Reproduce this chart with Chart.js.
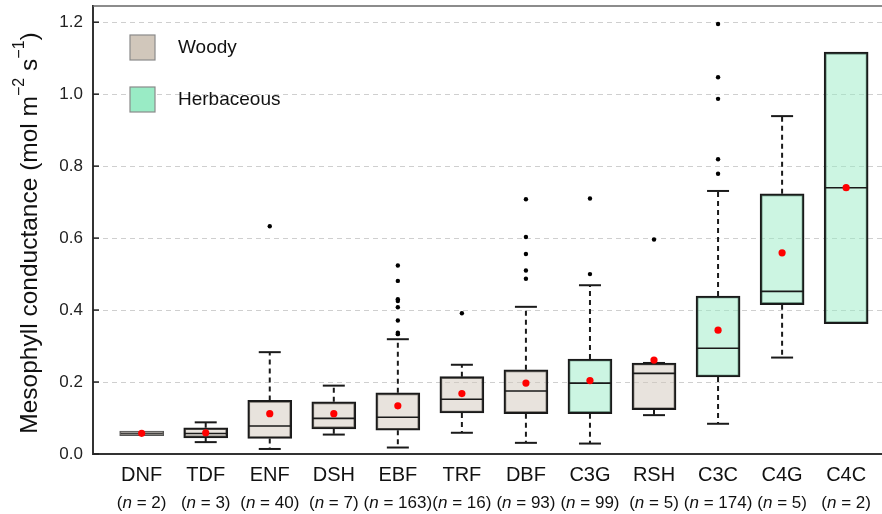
<!DOCTYPE html>
<html>
<head>
<meta charset="utf-8">
<script src="https://cdn.jsdelivr.net/npm/chart.js@4"></script>
<style>
  html, body { margin: 0; padding: 0; background: #fff; }
  #wrap { width: 882px; height: 514px; }
</style>
</head>
<body>
<div id="wrap"><canvas id="myChart"></canvas></div>
<script>
  // data
  const categories = ['DNF', 'TDF', 'ENF', 'DSH', 'EBF', 'TRF', 'DBF', 'C3G', 'RSH', 'C3C', 'C4G', 'C4C'];
  const sampleSizes = [2, 3, 40, 7, 163, 16, 93, 99, 5, 174, 5, 2];
  const groups = ['Woody', 'Woody', 'Woody', 'Woody', 'Woody', 'Woody', 'Woody',
                  'Herbaceous', 'Woody', 'Herbaceous', 'Herbaceous', 'Herbaceous'];
  const q1 =          [0.051, 0.045, 0.043, 0.070, 0.066, 0.114, 0.112, 0.112, 0.123, 0.214, 0.415, 0.362];
  const medians =     [0.0575, 0.057, 0.078, 0.099, 0.102, 0.152, 0.175, 0.197, 0.224, 0.294, 0.452, 0.740];
  const q3 =          [0.064, 0.073, 0.149, 0.145, 0.170, 0.215, 0.234, 0.264, 0.253, 0.439, 0.723, 1.117];
  const whiskerLow =  [null, 0.033, 0.014, 0.054, 0.018, 0.059, 0.031, 0.029, 0.108, 0.084, 0.268, null];
  const whiskerHigh = [null, 0.088, 0.283, 0.190, 0.319, 0.248, 0.409, 0.469, 0.253, 0.731, 0.939, null];
  const means =       [0.0575, 0.059, 0.112, 0.112, 0.134, 0.168, 0.197, 0.204, 0.261, 0.344, 0.559, 0.740];
  const outliers = [
    [], [], [0.633], [],
    [0.524, 0.481, 0.430, 0.425, 0.408, 0.371, 0.337, 0.333],
    [0.391],
    [0.708, 0.603, 0.556, 0.510, 0.487],
    [0.710, 0.500],
    [0.596],
    [1.195, 1.047, 0.987, 0.819, 0.779],
    [], []
  ];
  const yTicks = [0, 0.2, 0.4, 0.6, 0.8, 1.0, 1.2];

  const groupColors = { Woody: '#d1c7bb', Herbaceous: '#99ebc5' };
  const groupFills = { Woody: 'rgba(209, 199, 187, 0.5)', Herbaceous: 'rgba(153, 235, 197, 0.5)' };
  const FONT = "'Liberation Sans', Arial, Helvetica, sans-serif";
  const INK = '#1a1a1a';
  const BOX_W = 44;

  // whiskers + medians, drawn right after the boxes
  const boxParts = {
    id: 'boxParts',
    afterDatasetDraw(chart, args) {
      if (args.index !== 0) return;
      const { ctx } = chart;
      const xs = chart.scales.x, ys = chart.scales.y;
      const seg = (x1, y1, x2, y2) => { ctx.beginPath(); ctx.moveTo(x1, y1); ctx.lineTo(x2, y2); ctx.stroke(); };
      ctx.save();
      ctx.strokeStyle = INK;
      ctx.lineWidth = 2;
      categories.forEach((c, i) => {
        const cx = xs.getPixelForValue(i + 1);
        const cap = BOX_W / 4;
        if (whiskerLow[i] !== null) {
          const yl = ys.getPixelForValue(whiskerLow[i]);
          ctx.setLineDash([5, 4]);
          seg(cx, ys.getPixelForValue(q1[i]), cx, yl);
          ctx.setLineDash([]);
          seg(cx - cap, yl, cx + cap, yl);
        }
        if (whiskerHigh[i] !== null) {
          const yh = ys.getPixelForValue(whiskerHigh[i]);
          ctx.setLineDash([5, 4]);
          seg(cx, ys.getPixelForValue(q3[i]), cx, yh);
          ctx.setLineDash([]);
          seg(cx - cap, yh, cx + cap, yh);
        }
        ctx.lineWidth = i === 0 ? 1 : 1.6;
        const ym = ys.getPixelForValue(medians[i]);
        seg(cx - BOX_W / 2 + 1, ym, cx + BOX_W / 2 - 1, ym);
        ctx.lineWidth = 2;
      });
      ctx.restore();
    }
  };

  // axis title with real superscripts
  const yTitle = {
    id: 'yTitle',
    afterDraw(chart) {
      const { ctx, chartArea: a } = chart;
      const main = '24.5px ' + FONT, sup = '16px ' + FONT;
      const parts = [
        ['Mesophyll conductance (mol m', main, 0],
        ['\u22122', sup, -10],
        [' s', main, 0],
        ['\u22121', sup, -10],
        [')', main, 0]
      ];
      ctx.save();
      ctx.translate(30, (a.top + a.bottom) / 2 + 3);
      ctx.rotate(-Math.PI / 2);
      ctx.fillStyle = '#111';
      ctx.textBaseline = 'middle';
      ctx.textAlign = 'left';
      let w = 0;
      parts.forEach(p => { ctx.font = p[1]; w += ctx.measureText(p[0]).width; });
      let x = -w / 2;
      parts.forEach(p => {
        ctx.font = p[1];
        ctx.fillText(p[0], x, p[2]);
        x += ctx.measureText(p[0]).width;
      });
      ctx.restore();
    }
  };

  // frame line, inner y ticks, legend and the (n = ..) row
  const decorations = {
    id: 'decorations',
    afterDraw(chart) {
      const { ctx, chartArea: a } = chart;
      const xs = chart.scales.x, ys = chart.scales.y;
      ctx.save();
      ctx.strokeStyle = '#666';
      ctx.lineWidth = 1.5;
      ctx.beginPath(); ctx.moveTo(a.left, a.top); ctx.lineTo(a.right, a.top); ctx.stroke();

      ctx.strokeStyle = '#222';
      ctx.lineWidth = 1.5;
      yTicks.forEach(v => {
        const y = ys.getPixelForValue(v);
        ctx.beginPath(); ctx.moveTo(a.left, y); ctx.lineTo(a.left + 6, y); ctx.stroke();
      });

      // legend
      ['Woody', 'Herbaceous'].forEach((g, k) => {
        const bx = a.left + 37, by = a.top + 29 + k * 52;
        ctx.fillStyle = groupColors[g];
        ctx.fillRect(bx, by, 25, 25);
        ctx.strokeStyle = '#8a8a8a';
        ctx.lineWidth = 1.2;
        ctx.strokeRect(bx, by, 25, 25);
        ctx.fillStyle = '#111';
        ctx.font = '19px ' + FONT;
        ctx.textAlign = 'left';
        ctx.textBaseline = 'middle';
        ctx.fillText(g, bx + 48, by + 13);
      });

      // sample sizes with italic n
      ctx.fillStyle = '#111';
      ctx.textBaseline = 'middle';
      ctx.textAlign = 'left';
      const up = '17px ' + FONT, it = 'italic 17px ' + FONT;
      categories.forEach((c, i) => {
        const cx = xs.getPixelForValue(i + 1);
        const parts = [['(', up], ['n', it], [' = ' + sampleSizes[i] + ')', up]];
        let w = 0;
        parts.forEach(p => { ctx.font = p[1]; w += ctx.measureText(p[0]).width; });
        let x = cx - w / 2;
        parts.forEach(p => { ctx.font = p[1]; ctx.fillText(p[0], x, 503); x += ctx.measureText(p[0]).width; });
      });
      ctx.restore();
    }
  };

  const boxData = categories.map((c, i) => ({ x: i + 1, y: [q1[i], q3[i]] }));
  const meanData = categories.map((c, i) => ({ x: i + 1, y: means[i] }));
  const outlierData = [];
  outliers.forEach((list, i) => list.forEach(v => outlierData.push({ x: i + 1, y: v })));

  const config = {
    type: 'bar',
    data: {
      datasets: [
        {
          label: 'Box',
          data: boxData,
          backgroundColor: groups.map(g => groupFills[g]),
          borderColor: categories.map((c, i) => i === 0 ? '#555' : INK),
          borderWidth: categories.map((c, i) => i === 0 ? 1.2 : 2),
          borderSkipped: false,
          barThickness: BOX_W,
          order: 3
        },
        {
          type: 'scatter',
          label: 'Outliers',
          data: outlierData,
          pointRadius: 2.2,
          pointBackgroundColor: '#000',
          pointBorderWidth: 0,
          order: 2
        },
        {
          type: 'scatter',
          label: 'Mean',
          data: meanData,
          pointRadius: 3.6,
          pointBackgroundColor: '#ff0000',
          pointBorderWidth: 0,
          order: 1
        }
      ]
    },
    options: {
      responsive: true,
      maintainAspectRatio: false,
      animation: false,
      layout: { autoPadding: false, padding: { top: 6, left: 0, right: 0, bottom: 0 } },
      plugins: { legend: { display: false }, tooltip: { enabled: false } },
      scales: {
        x: {
          type: 'linear',
          offset: false,
          min: 0.24,
          max: 12.56,
          grid: { display: false },
          border: { display: true, color: '#333', width: 2 },
          afterBuildTicks: s => { s.ticks = categories.map((c, i) => ({ value: i + 1 })); },
          afterFit: s => { s.height = 60; s.paddingLeft = 0; s.paddingRight = 0; },
          ticks: {
            autoSkip: false,
            maxRotation: 0,
            padding: 1,
            color: '#111',
            font: { family: FONT, size: 20 },
            callback: v => categories[v - 1]
          }
        },
        y: {
          min: 0,
          max: 1.245,
          grid: { color: '#cfcfcf', lineWidth: 1, drawTicks: false },
          border: { display: true, color: '#333', width: 2, dash: [5, 4] },
          afterBuildTicks: s => { s.ticks = yTicks.map(v => ({ value: v })); },
          afterFit: s => { s.width = 93; s.paddingTop = 0; s.paddingBottom = 0; },
          ticks: {
            padding: 10,
            color: '#222',
            font: { family: FONT, size: 17 },
            callback: v => v.toFixed(1)
          }
        }
      }
    },
    plugins: [boxParts, yTitle, decorations]
  };

  const myChart = new Chart(document.getElementById('myChart'), config);
</script>
</body>
</html>
